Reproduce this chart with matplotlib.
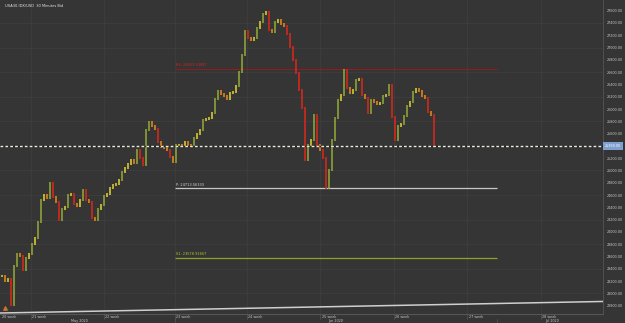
import numpy as np
import matplotlib.pyplot as plt
from matplotlib.transforms import blended_transform_factory

# 30 minute closes (one entry per drawn bar)
closes = [
    23283, 23202, 23235, 22812, 23446, 23641, 23609, 23381, 23576, 23641,
    23804, 23902, 24162, 24520, 24601, 24552, 24797, 24569, 24487, 24195,
    24374, 24406, 24601, 24618, 24455, 24422, 24520, 24683, 24520, 24487,
    24227, 24195, 24374, 24439, 24585, 24618, 24715, 24764, 24780, 24845,
    24976, 25041, 25106, 25171, 25122, 25334, 25203, 25089, 25659, 25789,
    25724, 25675, 25464, 25382, 25366, 25334, 25220, 25138, 25415, 25415,
    25399, 25464, 25415, 25399, 25529, 25594, 25659, 25822, 25838, 25854,
    25936, 26163, 26293, 26245, 26212, 26163, 26261, 26277, 26375, 26603,
    26879, 27270, 27156, 27123, 27156, 27318, 27416, 27546, 27579, 27286,
    27253, 27416, 27449, 27384, 27351, 27221, 27009, 26798, 26586, 26310,
    26017, 25171, 25415, 25496, 25903, 25415, 25334, 25203, 24715, 25008,
    25496, 25854, 26147, 26228, 26635, 26342, 26261, 26310, 26472, 26489,
    26228, 26180, 25936, 26147, 26115, 26082, 26098, 26212, 26228, 26391,
    25870, 25496, 25724, 25757, 25887, 26049, 26115, 26277, 26326, 26293,
    26212, 26180, 25952, 25903, 25399,
]

# monthly pivot levels
r1 = 26653.33887
pivot = 24713.56333
s1 = 23578.91667

# long trend line along the bottom
trend_x = [-0.5, 200.5]
trend_y = [22681, 22869]

# fractal marker at the start
fractal_x = [1]
fractal_y = [22770]

week_starts = [9.7, 34.0, 57.7, 81.8, 106.3, 130.8, 155.3, 179.7]
week_labels = ["21 week", "22 week", "23 week", "24 week",
               "25 week", "26 week", "27 week", "28 week"]
month_starts = [57.7, 165.2]
month_labels = ["May 2020", "Jun 2020", "Jul 2020"]
month_label_x = [25.8, 111.2, 183.5]

price_ticks = np.arange(22800, 27601, 200)

bg = "#353535"
grid_c = "#3e3e3e"
txt_c = "#c8c8c8"

fig = plt.figure(figsize=(6.25, 3.23), dpi=100, facecolor=bg)
ax = fig.add_axes([0, 9 / 323, 603 / 625, 314 / 323], facecolor=bg)
ax.set_xlim(-0.5, 200.5)
ax.set_ylim(22665, 27774)

# grid
for y in np.arange(23000, 27601, 400):
    ax.axhline(y, color=grid_c, lw=0.6, zorder=0)
for x in week_starts:
    ax.axvline(x, color=grid_c, lw=0.6, zorder=0)

# bars
x = np.arange(len(closes))
prev = [closes[0]] + closes[:-1]
cols = []
lo, hi = [], []
for p, c in zip(prev, closes):
    d = c - p
    if d > 100:
        cols.append("#94ad36")
    elif d >= 0:
        cols.append("#e4d434")
    elif d > -100:
        cols.append("#f08a1c")
    else:
        cols.append("#e0261a")
    lo.append(min(p, c) - 20)
    hi.append(max(p, c) + 20)
ax.vlines(x, lo, hi, colors=cols, lw=1.1, zorder=3)

# pivots for June
x0, x1 = month_starts
ax.hlines(r1, x0, x1, color="#8e1e1e", lw=0.8, zorder=2)
ax.hlines(pivot, x0, x1, color="#c8c8c8", lw=0.9, zorder=2)
ax.hlines(s1, x0, x1, color="#8fa424", lw=0.9, zorder=2)
ax.text(x0 + 0.5, r1 + 25, f"R1: {r1:.5f}", color="#d02424", fontsize=2.5,
        va="bottom", ha="left")
ax.text(x0 + 0.5, pivot + 25, f"P: {pivot:.5f}", color="#d8d8d8", fontsize=2.5,
        va="bottom", ha="left")
ax.text(x0 + 0.5, s1 + 25, f"S1: {s1:.5f}", color="#b4c430", fontsize=2.5,
        va="bottom", ha="left")

# trend line and marker
ax.plot(trend_x, trend_y, color="#cfcfcf", lw=1.1, zorder=2)
ax.scatter(fractal_x, fractal_y, marker="^", s=6, color="#d07030", zorder=4)

# current price
last = closes[-1]
ax.axhline(last, color="#1c2440", lw=1.0, zorder=4)
ax.axhline(last, color="#f2eec0", lw=1.0, ls=(0, (2, 1.5)), zorder=5)
ax.text(1.003, last, f"{last:.2f}", transform=blended_transform_factory(ax.transAxes, ax.transData),
        fontsize=2.4, color="white", va="center", ha="left", clip_on=False,
        bbox=dict(boxstyle="square,pad=0.6", fc="#7f9fcf", ec="none"), zorder=6)

# price axis (label under the price box is hidden by it)
ax.yaxis.tick_right()
shown = [v for v in price_ticks if abs(v - last) > 120]
ax.set_yticks(shown)
ax.set_yticklabels([f"{v:.2f}" for v in shown])
ax.tick_params(axis="y", length=0, pad=3, labelsize=2.4, labelcolor=txt_c)
ax.set_xticks([])
for s in ["top", "left", "bottom"]:
    ax.spines[s].set_visible(False)
ax.spines["right"].set_color("#555555")
ax.spines["right"].set_linewidth(0.6)

# time axis
tr = blended_transform_factory(ax.transData, ax.transAxes)
ax.axhline(22665, color="#555555", lw=0.8, clip_on=False)
ax.text(0.2, -0.009, "20 week", transform=tr, fontsize=2.4, color=txt_c,
        va="center", ha="left", clip_on=False)
for xs, lab in zip(week_starts, week_labels):
    ax.text(xs + 0.4, -0.009, lab, transform=tr, fontsize=2.4, color=txt_c,
            va="center", ha="left", clip_on=False)
    ax.plot([xs, xs], [0, -0.016], transform=tr, color="#555555", lw=0.5, clip_on=False)
for xs in month_starts:
    ax.plot([xs, xs], [-0.016, -0.04], transform=tr, color="#555555", lw=0.5, clip_on=False)
for xs, lab in zip(month_label_x, month_labels):
    ax.text(xs, -0.023, lab, transform=tr, fontsize=2.4, color=txt_c,
            va="center", ha="center", clip_on=False)

fig.text(5 / 625, 1 - 6 / 323, "USA30.IDX/USD  30 Minutes Bid", fontsize=2.6,
         color="#e6e6e6", va="center", ha="left")

fig.savefig("out.png", dpi=100, facecolor=bg)
